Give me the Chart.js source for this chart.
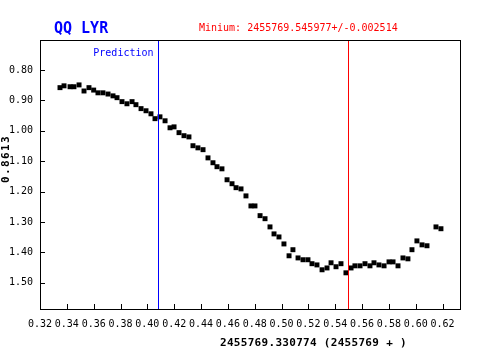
<!DOCTYPE html>
<html>
<head>
<meta charset="utf-8">
<script src="https://cdn.jsdelivr.net/npm/chart.js@4/dist/chart.umd.min.js"></script>
<style>
html,body{margin:0;padding:0;background:#fff;}
#c{display:block;}
</style>
</head>
<body>
<canvas id="c" width="500" height="350"></canvas>
<script>
// ---- data ----
const PHASE = [0.3349,0.3379,0.3424,0.3453,0.3491,0.3528,0.3565,0.3600,0.3632,0.3669,
  0.3707,0.3744,0.3774,0.3811,0.3848,0.3886,0.3915,0.3953,0.3990,0.4027,
  0.4057,0.4094,0.4132,0.4169,0.4199,0.4236,0.4273,0.4310,0.4340,0.4377,
  0.4415,0.4452,0.4489,0.4519,0.4556,0.4594,0.4631,0.4661,0.4698,0.4735,
  0.4772,0.4802,0.4840,0.4877,0.4914,0.4944,0.4981,0.5018,0.5056,0.5085,
  0.5123,0.5160,0.5197,0.5227,0.5264,0.5302,0.5339,0.5369,0.5406,0.5443,
  0.5480,0.5518,0.5547,0.5585,0.5622,0.5659,0.5689,0.5726,0.5764,0.5801,
  0.5831,0.5868,0.5905,0.5942,0.5972,0.6009,0.6047,0.6084,0.6151,0.6188];
const MAG = [0.858,0.852,0.855,0.855,0.849,0.869,0.858,0.866,0.875,0.875,
  0.879,0.885,0.891,0.904,0.911,0.904,0.914,0.927,0.934,0.944,
  0.960,0.954,0.967,0.990,0.987,1.006,1.016,1.020,1.049,1.056,
  1.062,1.089,1.105,1.118,1.125,1.161,1.174,1.187,1.191,1.214,
  1.247,1.247,1.279,1.289,1.316,1.339,1.349,1.372,1.411,1.391,
  1.418,1.424,1.424,1.437,1.441,1.457,1.451,1.434,1.447,1.437,
  1.467,1.451,1.444,1.444,1.437,1.444,1.434,1.441,1.444,1.431,
  1.431,1.444,1.418,1.421,1.391,1.362,1.375,1.378,1.316,1.322];
const PREDICTION = 0.4081;
const MINIMUM = 0.5497;
const X_TICKS = [0.32,0.34,0.36,0.38,0.40,0.42,0.44,0.46,0.48,0.50,0.52,0.54,0.56,0.58,0.60,0.62];
const Y_TICKS = [0.80,0.90,1.00,1.10,1.20,1.30,1.40,1.50];
const XMIN = 0.32, XMAX = 0.633;
const YMIN = 0.7013, YMAX = 1.586;
const TITLE = 'QQ LYR';
const MIN_TEXT = 'Minium: 2455769.545977+/-0.002514';
const PRED_TEXT = 'Prediction';
const X_TITLE = '2455769.330774 (2455769 + )';
const Y_TITLE = '0.8613';

const MONO = '"DejaVu Sans Mono", "Liberation Mono", monospace';

const overlay = {
  id: 'overlay',
  afterDatasetsDraw(chart) {
    const {ctx, chartArea: a, scales: {x, y}} = chart;
    ctx.save();
    // vertical marker lines
    const vline = (v, color) => {
      const px = Math.round(x.getPixelForValue(v)) + 0.5;
      ctx.strokeStyle = color; ctx.lineWidth = 1;
      ctx.beginPath(); ctx.moveTo(px, a.top); ctx.lineTo(px, a.bottom); ctx.stroke();
      return px;
    };
    const bx = vline(PREDICTION, '#0000ff');
    vline(MINIMUM, '#ff0000');
    // frame
    ctx.strokeStyle = '#000';
    ctx.lineWidth = 1;
    ctx.strokeRect(a.left + 0.5, a.top + 0.5, a.right - a.left, a.bottom - a.top);
    // inward ticks
    ctx.beginPath();
    y.ticks.forEach(t => {
      const py = Math.round(y.getPixelForValue(t.value)) + 0.5;
      ctx.moveTo(a.left, py); ctx.lineTo(a.left + 5, py);
    });
    x.ticks.forEach(t => {
      const px = Math.round(x.getPixelForValue(t.value)) + 0.5;
      ctx.moveTo(px, a.bottom); ctx.lineTo(px, a.bottom - 5);
    });
    ctx.stroke();
    // texts
    ctx.textBaseline = 'alphabetic';
    ctx.fillStyle = '#0000ff';
    ctx.font = 'bold 15px ' + MONO;
    ctx.textAlign = 'left';
    ctx.fillText(TITLE, 54, 33);
    ctx.fillStyle = '#ff0000';
    ctx.font = '10px ' + MONO;
    ctx.fillText(MIN_TEXT, 199, 30.5);
    ctx.fillStyle = '#0000ff';
    ctx.textAlign = 'right';
    ctx.fillText(PRED_TEXT, bx - 5, 56);
    ctx.fillStyle = '#000';
    ctx.textAlign = 'left';
    ctx.font = 'bold 11px ' + MONO;
    ctx.letterSpacing = '0.3px';
    ctx.fillText(X_TITLE, 220, 346);
    ctx.save();
    ctx.translate(8.5, 159);
    ctx.rotate(-Math.PI / 2);
    ctx.textAlign = 'center';
    ctx.font = 'bold 11px ' + MONO;
    ctx.letterSpacing = '1.4px';
    ctx.fillText(Y_TITLE, 0, 0);
    ctx.restore();
    ctx.restore();
  }
};

const tickFont = { family: MONO, size: 10 };

new Chart(document.getElementById('c'), {
  type: 'scatter',
  data: {
    datasets: [{
      data: PHASE.map((p, i) => ({ x: p, y: MAG[i] })),
      pointStyle: 'rect',
      pointRadius: 3.5,
      pointHoverRadius: 3.5,
      backgroundColor: '#000',
      borderWidth: 0
    }]
  },
  options: {
    responsive: false,
    animation: false,
    events: [],
    layout: { padding: { top: 40, right: 40, left: 0, bottom: 0 } },
    plugins: { legend: { display: false }, tooltip: { enabled: false } },
    scales: {
      x: {
        type: 'linear',
        min: XMIN, max: XMAX,
        afterFit: s => { s.height = 41; },
        afterBuildTicks: s => { s.ticks = X_TICKS.map(v => ({ value: v })); },
        grid: { display: false, drawTicks: false },
        border: { display: false },
        ticks: {
          autoSkip: false, maxRotation: 0, minRotation: 0,
          padding: 9, color: '#000', font: tickFont,
          callback: v => Number(v).toFixed(2)
        }
      },
      y: {
        type: 'linear',
        reverse: true,
        min: YMIN, max: YMAX,
        afterFit: s => { s.width = 40; },
        afterBuildTicks: s => { s.ticks = Y_TICKS.map(v => ({ value: v })); },
        grid: { display: false, drawTicks: false },
        border: { display: false },
        ticks: {
          autoSkip: false, padding: 7, color: '#000', font: tickFont,
          callback: v => Number(v).toFixed(2)
        }
      }
    }
  },
  plugins: [overlay]
});
</script>
</body>
</html>
